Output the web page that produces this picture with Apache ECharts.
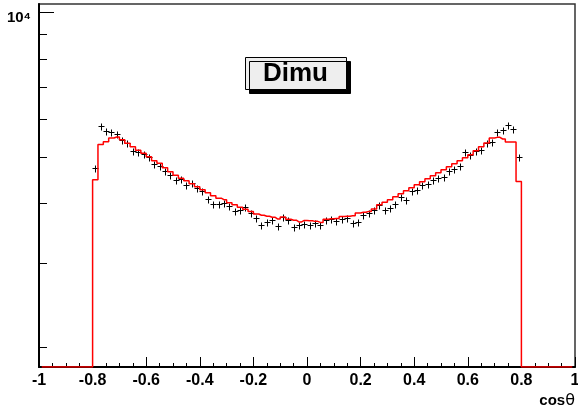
<!DOCTYPE html>
<html>
<head>
<meta charset="utf-8">
<script src="https://cdn.jsdelivr.net/npm/echarts@6/dist/echarts.min.js"></script>
<style>
html,body{margin:0;padding:0;background:#fff;}
#main{width:578px;height:406px;}
</style>
</head>
<body>
<div id="main"></div>
<script>
// bin centres (bin width 0.02)
var cosTheta = [
	-0.79,-0.77,-0.75,-0.73,-0.71,-0.69,-0.67,-0.65,-0.63,-0.61,
	-0.59,-0.57,-0.55,-0.53,-0.51,-0.49,-0.47,-0.45,-0.43,-0.41,
	-0.39,-0.37,-0.35,-0.33,-0.31,-0.29,-0.27,-0.25,-0.23,-0.21,
	-0.19,-0.17,-0.15,-0.13,-0.11,-0.09,-0.07,-0.05,-0.03,-0.01,
	0.01,0.03,0.05,0.07,0.09,0.11,0.13,0.15,0.17,0.19,
	0.21,0.23,0.25,0.27,0.29,0.31,0.33,0.35,0.37,0.39,
	0.41,0.43,0.45,0.47,0.49,0.51,0.53,0.55,0.57,0.59,
	0.61,0.63,0.65,0.67,0.69,0.71,0.73,0.75,0.77,0.79
];
// red histogram (MC)
var mcCounts = [
	4483,5312,5380,5478,5505,5433,5343,5254,5166,5092,
	5007,4912,4853,4750,4659,4581,4516,4462,4398,4335,
	4273,4212,4152,4103,4073,4015,3976,3928,3890,3850,
	3802,3780,3762,3744,3712,3748,3708,3690,3659,3687,
	3682,3670,3652,3708,3717,3722,3758,3762,3771,3820,
	3835,3850,3894,3976,4025,4073,4132,4192,4253,4315,
	4377,4440,4505,4570,4636,4704,4772,4841,4912,4984,
	5055,5153,5254,5348,5478,5494,5451,5372,5372,4447
];
// black crosses (data)
var dataCounts = [
	4743,5811,5673,5638,5584,5415,5338,5153,5129,5062,
	4990,4834,4779,4682,4577,4468,4490,4362,4413,4300,
	4253,4079,3990,3990,4005,3951,3863,3881,3932,3820,
	3722,3607,3659,3699,3583,3740,3699,3572,3612,3617,
	3607,3647,3600,3687,3717,3682,3717,3722,3635,3664,
	3789,3820,3877,3963,3881,3906,3995,4119,4067,4239,
	4273,4377,4398,4483,4520,4542,4666,4720,4779,5121,
	5038,5153,5161,5348,5374,5638,5681,5831,5728,4990
];
// empty bins outside |cos|<0.8, drawn on the frame bottom like ROOT does
var emptyLeft = [-0.99, -0.81];
var emptyRight = [0.81, 0.99];

var yMin = 1823, yMax = 10427;
var yMajorTicks = [10000];
var yMinorTicks = [2000,3000,4000,5000,6000,7000,8000,9000];

var font = 'Liberation Sans, Arial, Helvetica, sans-serif';

var histData = [];
emptyLeft.forEach(function (x) { histData.push([x, yMin]); });
cosTheta.forEach(function (x, i) { histData.push([x, mcCounts[i]]); });
emptyRight.forEach(function (x) { histData.push([x, yMin]); });

var pointData = cosTheta.map(function (x, i) { return [x, dataCounts[i]]; });

// ROOT style "+" marker, drawn crisp
function renderCross(params, api) {
	var p = api.coord([api.value(0), api.value(1)]);
	var cx = Math.round(p[0]) + 0.5, cy = Math.round(p[1]) + 0.5;
	var st = {stroke: '#000', lineWidth: 1};
	return {
		type: 'group',
		children: [
			{type: 'line', shape: {x1: cx - 3, y1: cy, x2: cx + 3, y2: cy}, style: st},
			{type: 'line', shape: {x1: cx, y1: cy - 3, x2: cx, y2: cy + 4}, style: st}
		]
	};
}

var chart = echarts.init(document.getElementById('main'));
var option = {
	animation: false,
	backgroundColor: '#fff',
	title: {
		text: 'Dimu',
		left: 245,
		top: 57,
		padding: [4, 19, 3, 18],
		backgroundColor: '#eeeeee',
		borderColor: '#000',
		borderWidth: 1,
		shadowColor: '#000',
		shadowOffsetX: 4,
		shadowOffsetY: 4,
		shadowBlur: 0,
		textStyle: {
			fontSize: 26,
			fontWeight: 'bold',
			fontFamily: font,
			color: '#000'
		}
	},
	grid: {
		left: 39,
		right: 3,
		top: 4,
		bottom: 39,
		outerBoundsMode: 'none',
		containLabel: false,
		show: true,
		borderColor: '#333',
		borderWidth: 1.5
	},
	xAxis: {
		type: 'value',
		min: -1,
		max: 1,
		interval: 0.2,
		name: '{c|cos}{t|θ}',
		nameLocation: 'end',
		nameGap: 0,
		nameTextStyle: {
			align: 'right',
			verticalAlign: 'top',
			padding: [26, 0, 0, 0],
			rich: {
				c: {fontSize: 15, fontWeight: 'bold', fontFamily: font, color: '#000'},
				t: {fontSize: 16, fontFamily: 'DejaVu Sans', color: '#000'}
			}
		},
		axisLine: {onZero: false, lineStyle: {color: '#000', width: 2}},
		axisTick: {inside: true, length: 10, lineStyle: {color: '#000', width: 1}},
		minorTick: {show: true, splitNumber: 4, length: 4, lineStyle: {color: '#000', width: 1}},
		splitLine: {show: false},
		axisLabel: {
			margin: 6,
			fontSize: 16,
			fontWeight: 'bold',
			fontFamily: font,
			color: '#000'
		}
	},
	yAxis: [
		{
			type: 'log',
			logBase: 10,
			min: yMin,
			max: yMax,
			position: 'left',
			axisLine: {show: true, onZero: false, lineStyle: {color: '#000', width: 2}},
			axisTick: {inside: true, length: 15, customValues: yMajorTicks, lineStyle: {color: '#000', width: 1}},
			splitLine: {show: false},
			axisLabel: {
				customValues: yMajorTicks,
				margin: 8,
				formatter: function (v) { return '10⁴'; },
				verticalAlign: 'top',
				lineHeight: 10,
				fontSize: 15,
				fontWeight: 'bold',
				fontFamily: font,
				color: '#000'
			}
		},
		{
			type: 'log',
			logBase: 10,
			min: yMin,
			max: yMax,
			position: 'left',
			offset: 0,
			axisLine: {show: false, onZero: false},
			axisTick: {inside: true, length: 8, customValues: yMinorTicks, lineStyle: {color: '#000', width: 1}},
			splitLine: {show: false},
			axisLabel: {show: false}
		}
	],
	series: [
		{
			name: 'MC',
			type: 'line',
			step: 'middle',
			data: histData,
			symbol: 'none',
			yAxisIndex: 0,
			lineStyle: {color: '#ff0000', width: 1.5}
		},
		{
			name: 'Data',
			type: 'custom',
			data: pointData,
			yAxisIndex: 0,
			renderItem: renderCross,
			z: 3
		}
	]
};
chart.setOption(option);
</script>
</body>
</html>
